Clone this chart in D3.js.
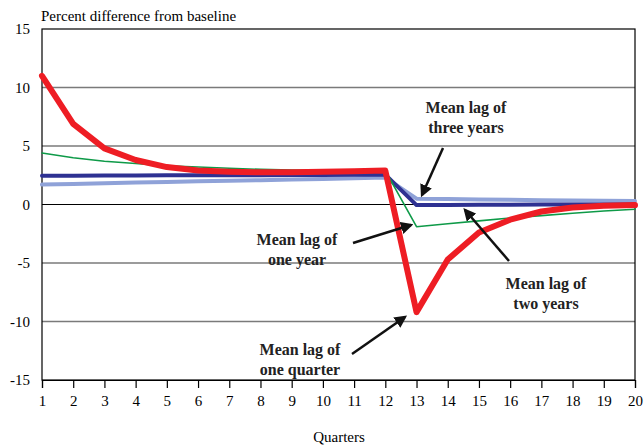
<html>
<head>
  <script src="https://d3js.org/d3.v7.min.js"></script>
  <style>
    body { margin: 0; background: white; }
  </style>
</head>
<body>
  <svg id="chart" width="644" height="446" font-family="Liberation Serif"></svg>
  <script>
    // data
    const quarters = d3.range(1, 21);
    const yTicks = [-15, -10, -5, 0, 5, 10, 15];
    const oneQuarter = [11, 6.9, 4.8, 3.8, 3.2, 2.9, 2.8, 2.75, 2.75, 2.8, 2.85, 2.9, -9.2, -4.7, -2.4, -1.3, -0.6, -0.25, -0.1, -0.05];
    const oneYear = [4.4, 4.0, 3.7, 3.5, 3.3, 3.2, 3.1, 3.0, 2.95, 2.9, 2.9, 2.9, -1.9, -1.65, -1.4, -1.15, -0.95, -0.75, -0.55, -0.4];
    const twoYears = [2.45, 2.46, 2.47, 2.48, 2.49, 2.5, 2.5, 2.51, 2.52, 2.53, 2.54, 2.55, -0.05, -0.04, -0.03, -0.02, -0.01, 0, 0, 0];
    const threeYears = [1.7, 1.76, 1.82, 1.87, 1.92, 1.98, 2.03, 2.08, 2.14, 2.19, 2.24, 2.3, 0.5, 0.46, 0.43, 0.4, 0.37, 0.35, 0.32, 0.3];

    const series = [
      { name: "three", values: threeYears, color: "#8fa2d8", width: 4 },
      { name: "two", values: twoYears, color: "#2e3192", width: 4 },
      { name: "one year", values: oneYear, color: "#0e9a48", width: 1.6 },
      { name: "quarter", values: oneQuarter, color: "#ee1d24", width: 6 }
    ];

    const notes = [
      { lines: ["Mean lag of", "three years"], x: 466, y: 108, from: [443, 148], to: [422, 195] },
      { lines: ["Mean lag of", "one year"], x: 297, y: 240, from: [353, 243], to: [411, 225] },
      { lines: ["Mean lag of", "two years"], x: 546, y: 284, from: [509, 261], to: [465, 210] },
      { lines: ["Mean lag of", "one quarter"], x: 300, y: 350, from: [352, 354], to: [405, 317] }
    ];

    const FONT = "Liberation Serif";
    const svg = d3.select("#chart");
    const x = d3.scaleLinear().domain([1, 20]).range([42, 635]);
    const y = d3.scaleLinear().domain([-15, 15]).range([380, 29]);

    // gridlines
    svg.append("g").selectAll("line")
      .data(yTicks.filter(d => d !== 15 && d !== -15))
      .join("line")
      .attr("x1", x(1)).attr("x2", x(20))
      .attr("y1", d => y(d)).attr("y2", d => y(d))
      .attr("stroke", d => d === 0 ? "#000" : "#7a7a7a")
      .attr("stroke-width", d => d === 0 ? 1 : 1.5);

    // box
    svg.append("rect")
      .attr("x", x(1)).attr("y", y(15))
      .attr("width", x(20) - x(1)).attr("height", y(-15) - y(15))
      .attr("fill", "none").attr("stroke", "#000").attr("stroke-width", 1.2);

    // y axis labels
    svg.append("g").selectAll("text")
      .data(yTicks)
      .join("text")
      .attr("x", 30).attr("y", d => y(d) + 5)
      .attr("text-anchor", "end")
      .attr("font-family", FONT)
      .attr("font-size", 15)
      .text(d => d);

    // bottom axis
    const bottomAxis = d3.axisBottom(x).tickValues(quarters).tickSize(8).tickFormat(d3.format("d"));
    const xg = svg.append("g")
      .attr("transform", `translate(0,${y(-15)})`)
      .call(bottomAxis)
      .attr("font-family", FONT)
      .attr("font-size", 15);
    xg.select(".domain").attr("stroke-width", 1.2);
    xg.selectAll(".tick line").attr("stroke-width", 1.2);
    xg.selectAll(".tick text")
      .attr("y", 15)
      .attr("fill", "#000");

    svg.append("text")
      .attr("x", 339).attr("y", 442)
      .attr("text-anchor", "middle")
      .attr("font-family", FONT)
      .attr("font-size", 15)
      .text("Quarters");

    svg.append("text")
      .attr("x", 41).attr("y", 21)
      .attr("font-family", FONT)
      .attr("font-size", 15)
      .text("Percent difference from baseline");

    // lines
    const line = d3.line().x((d, i) => x(quarters[i])).y(d => y(d));
    svg.append("g").selectAll("path")
      .data(series)
      .join("path")
      .attr("d", d => line(d.values))
      .attr("fill", "none")
      .attr("stroke", d => d.color)
      .attr("stroke-width", d => d.width)
      .attr("stroke-linejoin", "round")
      .attr("stroke-linecap", "round");

    // annotations
    svg.append("defs").append("marker")
      .attr("id", "arrow")
      .attr("viewBox", "0 0 10 10")
      .attr("refX", 8).attr("refY", 5)
      .attr("markerWidth", 5).attr("markerHeight", 5)
      .attr("orient", "auto")
      .append("path")
      .attr("d", "M0,0 L10,5 L0,10 z")
      .attr("fill", "#111");

    const ann = svg.append("g");
    notes.forEach(n => {
      ann.append("line")
        .attr("x1", n.from[0]).attr("y1", n.from[1])
        .attr("x2", n.to[0]).attr("y2", n.to[1])
        .attr("stroke", "#111").attr("stroke-width", 2.5)
        .attr("marker-end", "url(#arrow)");
      n.lines.forEach((t, i) => {
        ann.append("text")
          .attr("x", n.x).attr("y", n.y + 5 + i * 20)
          .attr("text-anchor", "middle")
          .attr("font-family", FONT)
          .attr("font-size", 16)
          .attr("font-weight", 700)
          .attr("fill", "#222")
          .text(t);
      });
    });
  </script>
</body>
</html>
